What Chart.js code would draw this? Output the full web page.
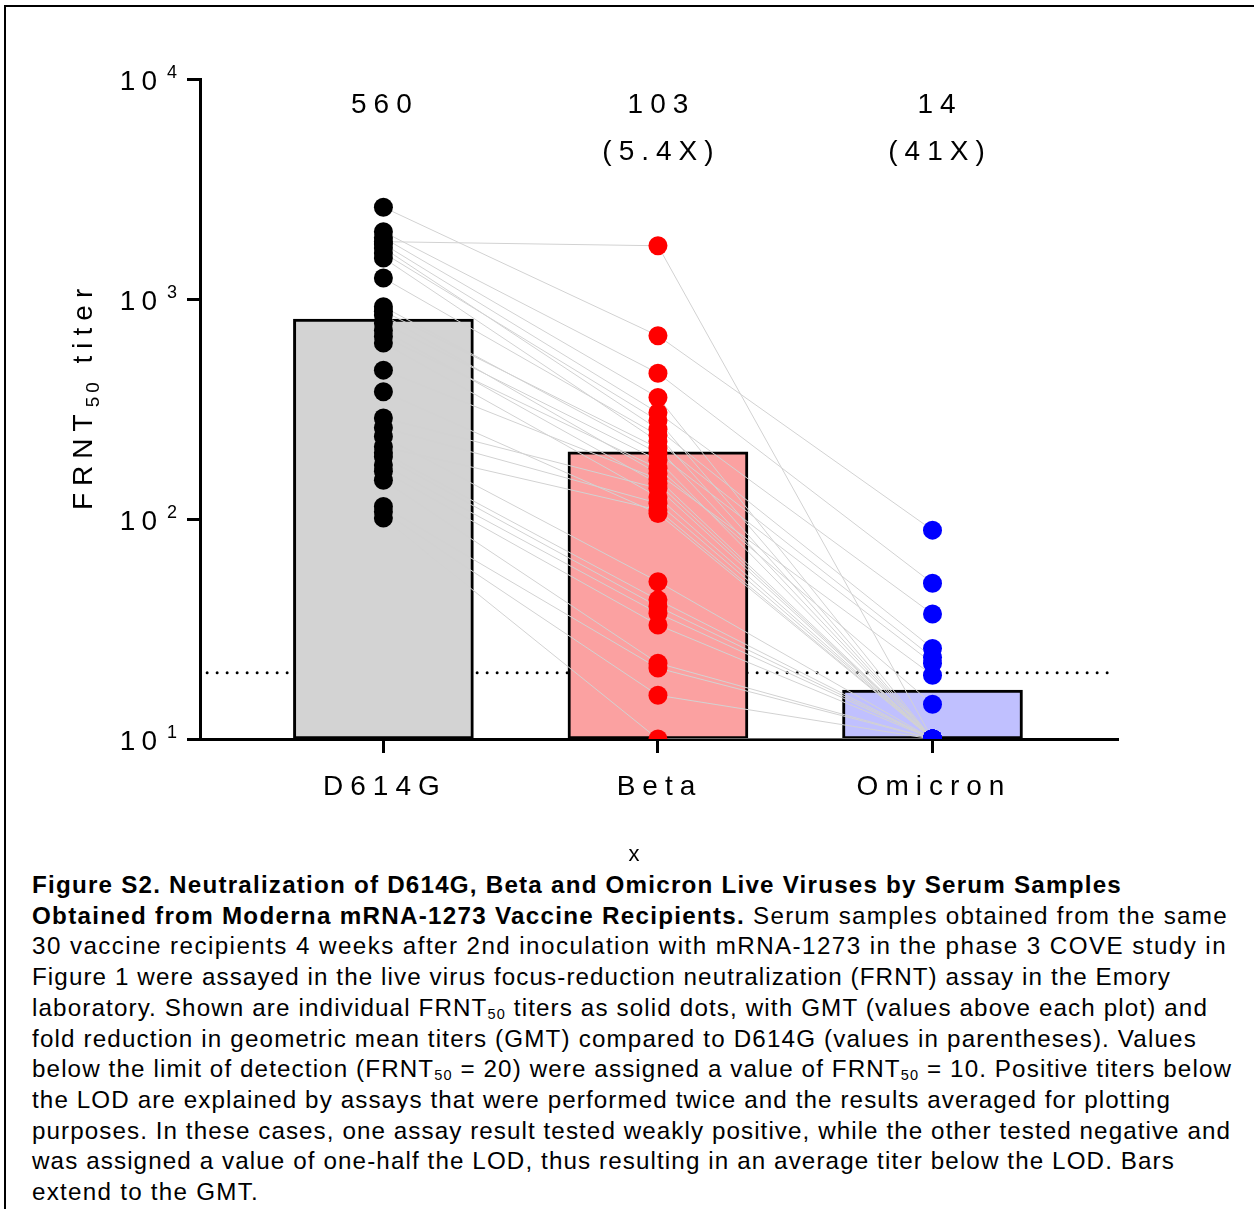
<!DOCTYPE html>
<html><head><meta charset="utf-8">
<script src="https://cdn.jsdelivr.net/npm/chart.js@4.4.0/dist/chart.umd.min.js"></script>
<style>
html,body{margin:0;padding:0;background:#fff;}
body{width:1254px;height:1209px;position:relative;overflow:hidden;font-family:"Liberation Sans",Arial,sans-serif;}
#frameTop{position:absolute;left:4px;top:5px;width:1250px;height:2px;background:#000;}
#frameLeft{position:absolute;left:4px;top:5px;width:2px;height:1204px;background:#000;}
#c{position:absolute;left:0;top:0;}
#cap{position:absolute;left:32px;top:870px;font-size:24.2px;line-height:30.7px;color:#000;white-space:nowrap;}
#cap div{white-space:nowrap;}
#cap span{display:inline-block;}
#cap sub{font-size:0.6em;vertical-align:-0.2em;line-height:0;}
</style></head><body>
<div id="frameTop"></div><div id="frameLeft"></div>
<canvas id="c" width="1254" height="870"></canvas>
<div id="cap">
<div data-w="1090"><span><b>Figure S2. Neutralization of D614G, Beta and Omicron Live Viruses by Serum Samples</b></span></div>
<div data-w="1196"><span><b>Obtained from Moderna mRNA-1273 Vaccine Recipients.</b> Serum samples obtained from the same</span></div>
<div data-w="1195"><span>30 vaccine recipients 4 weeks after 2nd inoculation with mRNA-1273 in the phase 3 COVE study in</span></div>
<div data-w="1139"><span>Figure 1 were assayed in the live virus focus-reduction neutralization (FRNT) assay in the Emory</span></div>
<div data-w="1176"><span>laboratory. Shown are individual FRNT<sub>50</sub> titers as solid dots, with GMT (values above each plot) and</span></div>
<div data-w="1165"><span>fold reduction in geometric mean titers (GMT) compared to D614G (values in parentheses). Values</span></div>
<div data-w="1200"><span>below the limit of detection (FRNT<sub>50</sub> = 20) were assigned a value of FRNT<sub>50</sub> = 10. Positive titers below</span></div>
<div data-w="1139"><span>the LOD are explained by assays that were performed twice and the results averaged for plotting</span></div>
<div data-w="1199"><span>purposes. In these cases, one assay result tested weakly positive, while the other tested negative and</span></div>
<div data-w="1143"><span>was assigned a value of one-half the LOD, thus resulting in an average titer below the LOD. Bars</span></div>
<div data-w="227"><span>extend to the GMT.</span></div>
</div>
<script>
// ---- data ----
const categories = ['D614G', 'Beta', 'Omicron'];
const d614g = [2612, 1822, 2023, 1900, 1780, 1706, 1620, 1537, 1245, 922, 880, 846, 778, 720, 675, 631, 475, 379, 288, 260, 237, 213, 200, 192, 176, 165, 150, 114, 108, 101];
const beta  = [681, 1746, 460, 357, 304, 256, 280, 225, 240, 199, 210, 161, 185, 145, 170, 126, 152, 106, 138, 118, 51.9, 110, 42.9, 40, 37.3, 33, 22.1, 21, 15.8, 10];
const omicron = [89, 10, 51, 10, 37, 25.8, 10, 23.5, 10, 22.1, 10, 19.5, 10, 10, 14.4, 10, 10, 10, 10, 10, 10, 10, 10, 10, 10, 10, 10, 10, 10, 10];
const barValues = [811, 202, 16.7];
const gmtLabels = ['560', '103', '14'];
const foldLabels = ['', '(5.4X)', '(41X)'];
const lodValue = 20;
const yTickValues = [10, 100, 1000, 10000];
const yTickExponents = ['1', '2', '3', '4'];

const barColors = ['#d3d3d3', '#fba1a1', '#c0c0ff'];
const dotColors = ['#000000', '#ff0000', '#0000ff'];
const series = [d614g, beta, omicron];

const datasets = [];
datasets.push({
  type: 'line', data: [{x: -0.642, y: lodValue}, {x: 2.672, y: lodValue}],
  borderColor: '#000', borderWidth: 3, borderDash: [0, 10], borderCapStyle: 'round',
  pointRadius: 0, order: 5, clip: false
});
datasets.push({
  type: 'bar', data: barValues.map((v, i) => ({x: i, y: v})),
  backgroundColor: barColors, borderColor: '#000', borderWidth: 3, borderSkipped: false,
  barThickness: 180, order: 4
});
for (let i = 0; i < d614g.length; i++) {
  datasets.push({
    type: 'line',
    data: [{x: 0, y: d614g[i]}, {x: 1, y: beta[i]}, {x: 2, y: omicron[i]}],
    borderColor: '#d2d2d2', borderWidth: 1, pointRadius: 0, order: 3, clip: 0
  });
}
series.forEach((s, k) => {
  datasets.push({
    type: 'scatter', data: s.map(v => ({x: k, y: v})),
    backgroundColor: dotColors[k], borderWidth: 0, pointRadius: 9.5, order: 1, clip: 0
  });
});

function drawSpaced(ctx, text, x, y, align, spacing, font) {
  ctx.save();
  ctx.font = font;
  ctx.letterSpacing = spacing + 'px';
  ctx.textAlign = 'left';
  ctx.textBaseline = 'alphabetic';
  const w = ctx.measureText(text).width - spacing;
  let sx = x;
  if (align === 'center') sx = x - w / 2;
  else if (align === 'right') sx = x - w;
  ctx.fillText(text, sx, y);
  ctx.restore();
  return w;
}

const FONT = '"Liberation Sans", Arial, sans-serif';
const labelPlugin = {
  id: 'labels',
  afterDraw(chart) {
    const ctx = chart.ctx;
    const xs = chart.scales.x, ys = chart.scales.y;
    ctx.fillStyle = '#000';
    yTickValues.forEach((v, i) => {
      const py = ys.getPixelForValue(v);
      drawSpaced(ctx, '10', 157, py + 11, 'right', 6, '28px ' + FONT);
      drawSpaced(ctx, yTickExponents[i], 167, py - 1, 'left', 0, '18px ' + FONT);
    });
    categories.forEach((c, i) => {
      drawSpaced(ctx, c, xs.getPixelForValue(i) - 2, 795, 'center', 7, '28px ' + FONT);
    });
    const annOffset = [-2, 0, 4];
    gmtLabels.forEach((g, i) => {
      const ax = xs.getPixelForValue(i) + annOffset[i];
      drawSpaced(ctx, g, ax, 113, 'center', 7, '28px ' + FONT);
      if (foldLabels[i]) drawSpaced(ctx, foldLabels[i], ax, 160, 'center', 7, '28px ' + FONT);
    });
    ctx.save();
    ctx.translate(92, 510);
    ctx.rotate(-Math.PI / 2);
    let cx = 0;
    cx += drawSpaced(ctx, 'FRNT', cx, 0, 'left', 7, '28px ' + FONT) + 7;
    cx += drawSpaced(ctx, '50', cx, 7, 'left', 4, '19px ' + FONT) + 4;
    drawSpaced(ctx, ' titer', cx, 0, 'left', 7, '28px ' + FONT);
    ctx.restore();
    drawSpaced(ctx, 'x', 634, 861, 'center', 0, '22px ' + FONT);
  }
};

new Chart(document.getElementById('c'), {
  data: {datasets},
  options: {
    responsive: false, animation: false, devicePixelRatio: 1,
    layout: {padding: {left: 0, top: 79, right: 137, bottom: 111}},
    plugins: {legend: {display: false}, tooltip: {enabled: false}},
    scales: {
      x: {
        type: 'linear', min: -0.668, max: 2.672, offset: false, bounds: 'ticks',
        afterBuildTicks: s => { s.ticks = [0, 1, 2].map(v => ({value: v})); },
        afterFit: s => { s.height = 20; },
        ticks: {display: false},
        grid: {offset: false, drawOnChartArea: false, drawTicks: true, tickLength: 14, lineWidth: 3, color: '#000'},
        border: {display: true, width: 3, color: '#000'}
      },
      y: {
        type: 'logarithmic', min: 10, max: 10000,
        afterBuildTicks: s => { s.ticks = yTickValues.map(v => ({value: v})); },
        afterFit: s => { s.width = 200; },
        ticks: {display: false},
        grid: {drawOnChartArea: false, drawTicks: true, tickLength: 13, lineWidth: 3, color: '#000'},
        border: {display: true, width: 3, color: '#000'}
      }
    }
  },
  plugins: [labelPlugin]
});

// fit each caption line to its width in the reference via small letter-spacing tweaks
function fitCaption() {
  document.querySelectorAll('#cap > div').forEach(div => {
    const span = div.querySelector('span');
    span.style.letterSpacing = '0px';
    const target = parseFloat(div.dataset.w);
    const w = span.getBoundingClientRect().width;
    const n = span.textContent.length;
    span.style.letterSpacing = ((target - w) / n).toFixed(3) + 'px';
  });
}
fitCaption();
if (document.fonts && document.fonts.ready) document.fonts.ready.then(fitCaption);
</script>
</body></html>
